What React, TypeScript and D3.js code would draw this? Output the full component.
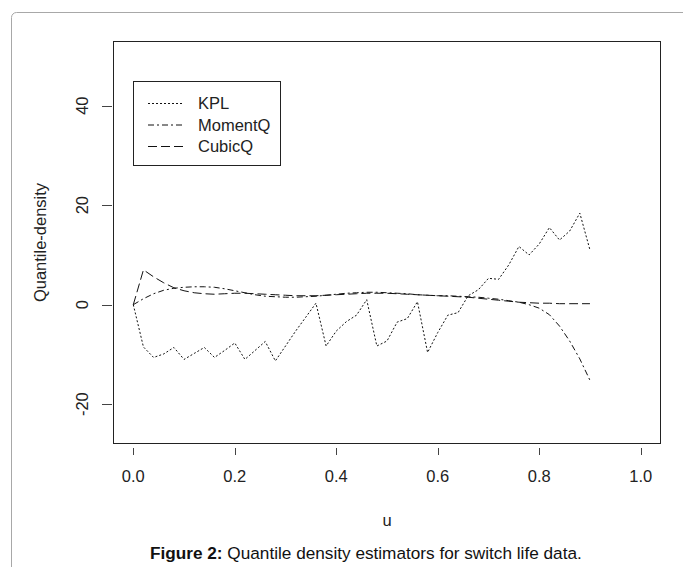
import React, { useEffect, useRef } from 'react';
import * as d3 from 'd3';

// u grid (probability levels)
const uValues = [
  0, 0.02, 0.04, 0.06, 0.08, 0.1, 0.12, 0.14, 0.16, 0.18, 0.2, 0.22, 0.24, 0.26, 0.28, 0.3,
  0.32, 0.34, 0.36, 0.38, 0.4, 0.42, 0.44, 0.46, 0.48, 0.5, 0.52, 0.54, 0.56, 0.58, 0.6,
  0.62, 0.64, 0.66, 0.68, 0.7, 0.72, 0.74, 0.76, 0.78, 0.8, 0.82, 0.84, 0.86, 0.88, 0.9,
];

const kpl = [
  0, -8.5, -10.6, -9.9, -8.6, -11, -9.8, -8.6, -10.6, -9.2, -7.7, -11, -9.2, -7.4, -11.3, -8.3,
  -5.3, -2.5, 0.3, -8.3, -5.3, -3.4, -2.1, 1.0, -8.3, -7.3, -3.5, -2.8, 0.6, -9.6, -5.6,
  -2.1, -1.6, 1.8, 3.0, 5.3, 5.1, 8.0, 11.7, 10.0, 12.2, 15.5, 13.0, 14.8, 18.4, 11.0,
];

const momentQ = [
  0, 1.2, 2.2, 2.9, 3.3, 3.5, 3.6, 3.6, 3.5, 3.2, 2.8, 2.4, 2.0, 1.7, 1.6, 1.5,
  1.5, 1.6, 1.7, 1.9, 2.1, 2.3, 2.4, 2.5, 2.5, 2.4, 2.3, 2.2, 2.0, 1.9, 1.8,
  1.8, 1.7, 1.6, 1.5, 1.3, 1.1, 0.8, 0.5, 0.0, -0.7, -2.0, -4.3, -7.3, -10.9, -15.2,
];

const cubicQ = [
  0, 7.0, 5.6, 4.4, 3.4, 2.8, 2.4, 2.2, 2.1, 2.2, 2.3, 2.3, 2.2, 2.1, 2.0, 1.9,
  1.8, 1.8, 1.8, 1.9, 2.0, 2.1, 2.2, 2.3, 2.3, 2.3, 2.2, 2.1, 2.0, 1.9, 1.8,
  1.7, 1.6, 1.5, 1.3, 1.1, 0.9, 0.7, 0.5, 0.4, 0.3, 0.3, 0.2, 0.2, 0.2, 0.2,
];

const xTicks = [0, 0.2, 0.4, 0.6, 0.8, 1.0];
const yTicks = [-20, 0, 20, 40];

const seriesNames = ['KPL', 'MomentQ', 'CubicQ'];
const seriesDash = ['2,2', '6,3,2,3', '9,4'];

const FONT = '"Liberation Sans", Arial, sans-serif';

const App = () => {
  const svgRef = useRef<SVGSVGElement>(null);

  useEffect(() => {
    const svg = d3.select(svgRef.current);
    svg.selectAll('*').remove();

    const left = 113, right = 661, top = 41, bottom = 444;
    const x = d3.scaleLinear().domain([-0.04, 1.04]).range([left, right]);
    const y = d3.scaleLinear().domain([-28, 53]).range([bottom, top]);

    // outer frame of the figure
    svg.append('rect')
      .attr('x', 11.5).attr('y', 12.5)
      .attr('width', 720).attr('height', 620)
      .attr('rx', 5)
      .attr('fill', 'none')
      .attr('stroke', '#a8a8a8');

    // plot box
    svg.append('rect')
      .attr('x', left + 0.5).attr('y', top + 0.5)
      .attr('width', right - left - 1).attr('height', bottom - top - 1)
      .attr('fill', 'none')
      .attr('stroke', '#222');

    // x axis ticks
    const xg = svg.append('g');
    xTicks.forEach(t => {
      xg.append('line')
        .attr('x1', Math.round(x(t)) + 0.5).attr('x2', Math.round(x(t)) + 0.5)
        .attr('y1', 448).attr('y2', 455)
        .attr('stroke', '#444');
      xg.append('text')
        .attr('x', x(t)).attr('y', 482)
        .attr('text-anchor', 'middle')
        .attr('font-family', FONT).attr('font-size', 16.5)
        .attr('fill', '#222')
        .text(d3.format('.1f')(t));
    });

    // y axis ticks
    const yg = svg.append('g');
    yTicks.forEach(t => {
      yg.append('line')
        .attr('x1', 102).attr('x2', 112)
        .attr('y1', Math.round(y(t)) + 0.5).attr('y2', Math.round(y(t)) + 0.5)
        .attr('stroke', '#444');
      yg.append('text')
        .attr('transform', `translate(88,${y(t)}) rotate(-90)`)
        .attr('text-anchor', 'middle')
        .attr('font-family', FONT).attr('font-size', 16.5)
        .attr('fill', '#222')
        .text(t);
    });

    // axis titles
    svg.append('text')
      .attr('x', (left + right) / 2).attr('y', 526)
      .attr('text-anchor', 'middle')
      .attr('font-family', FONT).attr('font-size', 16.5)
      .attr('fill', '#222')
      .text('u');
    svg.append('text')
      .attr('transform', `translate(46,${(top + bottom) / 2}) rotate(-90)`)
      .attr('text-anchor', 'middle')
      .attr('font-family', FONT).attr('font-size', 16.5)
      .attr('fill', '#222')
      .text('Quantile-density');

    // series lines
    const line = d3.line<number>()
      .x((d, i) => x(uValues[i]))
      .y(d => y(d));
    [kpl, momentQ, cubicQ].forEach((s, k) => {
      svg.append('path')
        .datum(s)
        .attr('d', line)
        .attr('fill', 'none')
        .attr('stroke', '#111')
        .attr('stroke-width', 1)
        .attr('stroke-dasharray', seriesDash[k]);
    });

    // legend
    const lg = svg.append('g');
    lg.append('rect')
      .attr('x', 133.5).attr('y', 81.5)
      .attr('width', 147).attr('height', 84)
      .attr('fill', 'white')
      .attr('stroke', '#222');
    seriesNames.forEach((name, k) => {
      const ly = 103 + k * 21.5;
      lg.append('line')
        .attr('x1', 148).attr('x2', 183)
        .attr('y1', ly + 0.5).attr('y2', ly + 0.5)
        .attr('stroke', '#111')
        .attr('stroke-dasharray', seriesDash[k]);
      lg.append('text')
        .attr('x', 198).attr('y', ly + 6)
        .attr('font-family', FONT).attr('font-size', 16.5)
        .attr('fill', '#222')
        .text(name);
    });

    // caption
    const cap = svg.append('text')
      .attr('x', 150).attr('y', 559)
      .attr('font-family', FONT).attr('font-size', 17.2)
      .attr('fill', '#111');
    cap.append('tspan').attr('font-weight', 'bold').text('Figure 2:');
    cap.append('tspan').text(' Quantile density estimators for switch life data.');
  }, []);

  return (
    <svg
      ref={svgRef}
      width={683}
      height={567}
      style={{ position: 'absolute', left: 0, top: 0, background: 'white' }}
    />
  );
};

export default App;
